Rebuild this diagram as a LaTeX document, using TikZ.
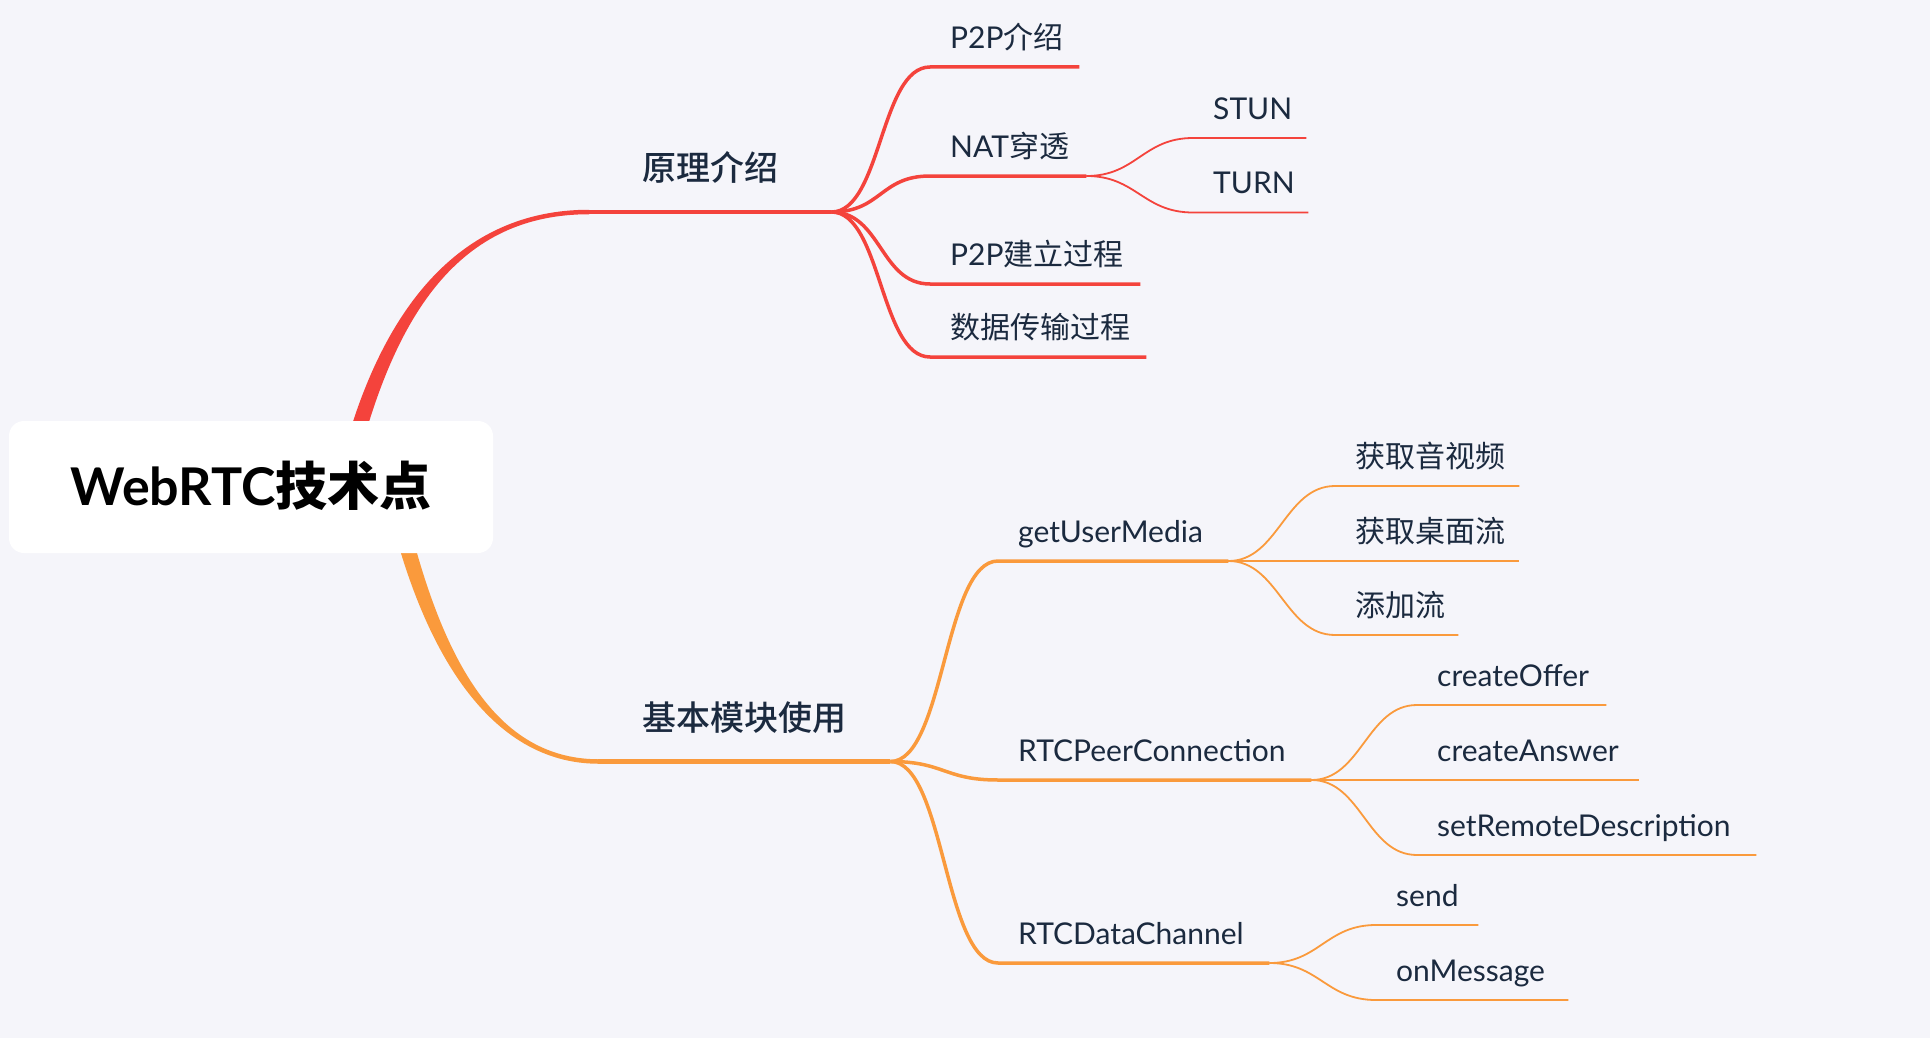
\documentclass[tikz,border=0pt]{standalone}
\usepackage{fontspec}
\setmainfont{Lato}
\newfontfamily\cjk{Noto Sans CJK SC}
\newfontfamily\cjkmed{Noto Sans CJK SC Medium}
\definecolor{bgc}{HTML}{F5F5FA}
\definecolor{redc}{HTML}{F4433C}
\definecolor{orangec}{HTML}{FA9A3C}
\definecolor{ink}{HTML}{1B2A3F}
\tikzset{
	topic/.style={anchor=south west, text depth=0pt, inner xsep=0pt, inner ysep=31pt, minimum width=#1, text=ink, font=\cjkmed\fontsize{34}{34}\selectfont},
	sub/.style={anchor=south west, text depth=0pt, inner xsep=20pt, inner ysep=18.5pt, text width=#1, align=left, text=ink, font=\fontsize{30}{30}\selectfont},
	redthick/.style={draw=redc, line width=3.5pt},
	redthin/.style={draw=redc, line width=1.8pt},
	orangethick/.style={draw=orangec, line width=3.5pt},
	orangethin/.style={draw=orangec, line width=1.8pt}
}
\begin{document}
\begin{tikzpicture}[x=1pt, y=-1pt]
	\useasboundingbox (0,0) rectangle (1930,1038);
	\fill[bgc] (0,0) rectangle (1930,1038);
	
	\node[topic=242pt] (principle) at (589,212) {原理介绍};
	\node[topic=292pt] (basic) at (598,761.5) {基本模块使用};
	
	\fill[redc] (337.2,478.2) .. controls (377.2,308.2) and (460,209.75) .. ([yshift=2.25pt]principle.south west) -- ([yshift=-2.25pt]principle.south west) .. controls (460,214.25) and (392.8,311.8) .. (352.8,481.8) -- cycle;
	\fill[orangec] (387.2,501.8) .. controls (422.2,651.8) and (490,763.25) .. ([yshift=-2.25pt]basic.south west) -- ([yshift=2.25pt]basic.south west) .. controls (490,758.75) and (437.8,648.2) .. (402.8,498.2) -- cycle;
	\draw[redc, line width=4.5pt] (principle.south west) -- (principle.south east);
	\draw[orangec, line width=4.5pt] (basic.south west) -- (basic.south east);
	
	\node[fill=white, rounded corners=15pt, minimum width=484pt, minimum height=132pt, inner sep=0pt, text height=37pt, text depth=0pt, font=\bfseries\fontsize{52}{52}\selectfont] (root) at (251,487) {WebRTC{\cjk 技术点}};
	
	\node[sub=109pt] (p2p) at (930,67) {P2P{\cjk 介绍}};
	\node[sub=116pt] (nat) at (930,176) {NAT{\cjk 穿透}};
	\node[sub=170pt] (build) at (930,284) {P2P{\cjk 建立过程}};
	\node[sub=176pt] (trans) at (930,357) {{\cjk 数据传输过程}};
	\node[sub=73pt] (stun) at (1193,138) {STUN};
	\node[sub=75pt] (turn) at (1193,212.5) {TURN};
	
	\node[sub=190pt] (gum) at (998,561) {getUserMedia};
	\node[sub=273pt] (peer) at (998,780) {RTCPeerConnection};
	\node[sub=231pt] (chan) at (998,963) {RTCDataChannel};
	\node[sub=144pt] (media) at (1335,486) {{\cjk 获取音视频}};
	\node[sub=144pt] (desk) at (1335,561) {{\cjk 获取桌面流}};
	\node[sub=83pt] (addst) at (1335,635) {{\cjk 添加流}};
	\node[sub=149pt] (offer) at (1417,705) {createOffer};
	\node[sub=182pt] (answer) at (1417,780) {createAnswer};
	\node[sub=299pt] (remote) at (1417,855) {setRemoteDescription};
	\node[sub=62pt] (send) at (1376,925) {send};
	\node[sub=152pt] (onmsg) at (1376,1000) {onMessage};
	
	\foreach \n in {p2p,nat,build,trans}
		\draw[redthick] (principle.south east) .. controls +(50,0) and +(-50,0) .. (\n.south west) -- (\n.south east);
	\foreach \n in {stun,turn}
		\draw[redthin] (nat.south east) .. controls +(50,0) and +(-50,0) .. (\n.south west) -- (\n.south east);
	\foreach \n in {gum,peer,chan}
		\draw[orangethick] (basic.south east) .. controls +(54,0) and +(-54,0) .. (\n.south west) -- (\n.south east);
	\foreach \n in {media,desk,addst}
		\draw[orangethin] (gum.south east) .. controls +(50,0) and +(-50,0) .. (\n.south west) -- (\n.south east);
	\foreach \n in {offer,answer,remote}
		\draw[orangethin] (peer.south east) .. controls +(50,0) and +(-50,0) .. (\n.south west) -- (\n.south east);
	\foreach \n in {send,onmsg}
		\draw[orangethin] (chan.south east) .. controls +(50,0) and +(-50,0) .. (\n.south west) -- (\n.south east);
	
\end{tikzpicture}
\end{document}
